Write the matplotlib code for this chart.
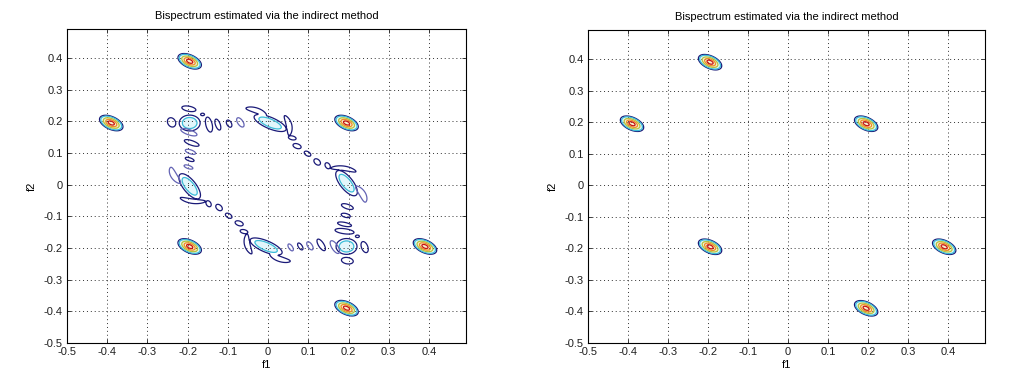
import numpy as np
import matplotlib.pyplot as plt

plt.rcParams['font.family'] = ['Liberation Sans', 'DejaVu Sans']

# frequency grid limits (normalised frequency)
f_lo, f_hi = -0.5, 0.492

# true spectral peaks, seen by both estimators (centre, outer contour half-axes, tilt)
peak_f1 = [-0.39, -0.195, 0.195, -0.195, 0.39, 0.195]
peak_f2 = [0.195, 0.39, 0.195, -0.195, -0.195, -0.39]
peak_a = [0.033, 0.033, 0.033, 0.033, 0.033, 0.033]
peak_b = [0.019, 0.019, 0.019, 0.019, 0.019, 0.019]
peak_ang = [-35, -35, -35, -35, -35, -35]
peak_amp = 10.0

# leakage cores of the indirect estimate (left panel only)
core_f1 = [0.005, 0.195, -0.005, -0.195, -0.195, 0.195]
core_f2 = [0.195, 0.005, -0.195, -0.005, 0.195, -0.195]
core_a = [0.045, 0.045, 0.045, 0.045, 0.026, 0.026]
core_b = [0.017, 0.017, 0.017, 0.017, 0.025, 0.025]
core_ang = [-30, -60, -30, -60, 0, 0]
core_amp = 2.5

# side lobes, dark outline
lobe_f1 = [-0.028, 0.052, 0.060, 0.188, 0.148, 0.028, -0.052, -0.060, -0.188, -0.148,
           0.072, 0.098, 0.122, -0.072, -0.098, -0.122,
           -0.240, -0.197, -0.163, -0.147, -0.125, -0.097,
           -0.190, -0.195,
           0.197, 0.240, 0.222, 0.190, 0.190, 0.193, 0.197,
           0.132, 0.080]
lobe_f2 = [0.234, 0.188, 0.148, 0.052, 0.060, -0.234, -0.188, -0.148, -0.052, -0.060,
           0.122, 0.098, 0.072, -0.122, -0.098, -0.072,
           0.197, 0.240, 0.222, 0.190, 0.190, 0.193,
           0.132, 0.080,
           -0.240, -0.197, -0.163, -0.147, -0.125, -0.097, -0.069,
           -0.190, -0.195]
lobe_a = [0.028, 0.032, 0.010, 0.032, 0.010, 0.028, 0.032, 0.010, 0.032, 0.010,
          0.011, 0.010, 0.011, 0.011, 0.010, 0.011,
          0.015, 0.018, 0.005, 0.024, 0.018, 0.012,
          0.020, 0.012,
          0.015, 0.018, 0.005, 0.024, 0.018, 0.012, 0.016,
          0.020, 0.012]
lobe_b = [0.008, 0.007, 0.006, 0.007, 0.006, 0.008, 0.007, 0.006, 0.007, 0.006,
          0.007, 0.006, 0.007, 0.007, 0.006, 0.007,
          0.010, 0.008, 0.004, 0.008, 0.006, 0.006,
          0.007, 0.005,
          0.010, 0.008, 0.004, 0.008, 0.006, 0.006, 0.007,
          0.007, 0.005]
lobe_ang = [-25, -80, -20, -10, -70, -25, -80, -20, -10, -70,
            -30, -45, -60, -30, -45, -60,
            -75, -15, 0, -80, -75, -70,
            -25, -25,
            -15, -75, 0, -10, -15, -20, -25,
            -65, -65]
lobe_bend = [5, 5, 0, 5, 0, 5, 5, 0, 5, 0,
             0, 0, 0, 0, 0, 0,
             0, 0, 0, 0, 0, 0,
             0, 0,
             0, 0, 0, 0, 0, 0, 0,
             0, 0]

# side lobes, lighter outline
faint_f1 = [0.234, -0.234, -0.069, -0.197, -0.193, -0.198, 0.166, 0.104, 0.056]
faint_f2 = [-0.028, 0.028, 0.197, 0.166, 0.104, 0.056, -0.197, -0.193, -0.198]
faint_a = [0.028, 0.028, 0.016, 0.022, 0.014, 0.012, 0.022, 0.014, 0.012]
faint_b = [0.008, 0.008, 0.007, 0.008, 0.006, 0.005, 0.008, 0.006, 0.005]
faint_ang = [-65, -65, -65, -25, -25, -25, -65, -65, -65]
faint_bend = [5, 5, 0, 0, 0, 0, 0, 0, 0]
lobe_amp = 1.4

levels = [1.0, 1.6, 3.5, 6.0, 8.5]
level_colors = ['#1a1a78', '#3cbcd8', '#b4c440', '#f08c28', '#c81414']


def blobs(F1, F2, x, y, a, b, ang, amp, bend=None):
    # each blob is 1.0 on its outer ellipse; blobs are merged with max
    out = np.zeros_like(F1)
    for i in range(len(x)):
        t = np.deg2rad(ang[i])
        dx, dy = F1 - x[i], F2 - y[i]
        u = dx * np.cos(t) + dy * np.sin(t)
        v = -dx * np.sin(t) + dy * np.cos(t)
        if bend is not None and bend[i]:
            # curve the lobe around the closest leakage core
            d = [(cx - x[i]) ** 2 + (cy - y[i]) ** 2 for cx, cy in zip(core_f1, core_f2)]
            j = int(np.argmin(d))
            side = -(core_f1[j] - x[i]) * np.sin(t) + (core_f2[j] - y[i]) * np.cos(t)
            v = v - np.sign(side) * bend[i] * u ** 2
        q = (u / a[i]) ** 2 + (v / b[i]) ** 2
        out = np.maximum(out, amp * amp ** (-q))
    return out


f = np.linspace(f_lo, f_hi, 500)
F1, F2 = np.meshgrid(f, f)

peaks = blobs(F1, F2, peak_f1, peak_f2, peak_a, peak_b, peak_ang, peak_amp)
leak = blobs(F1, F2, core_f1, core_f2, core_a, core_b, core_ang, core_amp)
side = blobs(F1, F2, lobe_f1, lobe_f2, lobe_a, lobe_b, lobe_ang, lobe_amp, lobe_bend)
faint = blobs(F1, F2, faint_f1, faint_f2, faint_a, faint_b, faint_ang, lobe_amp, faint_bend)

indirect = np.maximum(np.maximum(peaks, leak), side)
windowed = peaks

fig = plt.figure(figsize=(10.35, 3.85), dpi=100)
ax1 = fig.add_axes([67 / 1035, 42 / 385, 399 / 1035, 314 / 385])
ax2 = fig.add_axes([588 / 1035, 42 / 385, 397 / 1035, 313 / 385])

ticks = np.round(np.arange(-5, 5) * 0.1, 1) + 0.0

for ax, B in [(ax1, indirect), (ax2, windowed)]:
    ax.contourf(F1, F2, B, levels=[1.6, 3.5, 100], colors=['#e2f6fb', '#f6f0cc'])
    ax.contour(F1, F2, B, levels=levels, colors=level_colors, linewidths=0.9)
    if ax is ax1:
        ax.contour(F1, F2, faint, levels=[1.0], colors=['#6464b4'], linewidths=0.9)
    ax.set_xlim(f_lo, f_hi)
    ax.set_ylim(f_lo, f_hi)
    ax.set_xticks(ticks)
    ax.set_yticks(ticks)
    ax.set_xticklabels([f'{v:g}' for v in ticks])
    ax.set_yticklabels([f'{v:g}' for v in ticks])
    ax.tick_params(direction='in', length=3, width=0.6, top=True, right=True,
                   labelsize=8, pad=3, colors='#202020')
    ax.grid(True, color='#303030', linestyle=(0, (1, 3)), linewidth=0.7)
    for s in ax.spines.values():
        s.set_linewidth(0.8)
    ax.set_title('Bispectrum estimated via the indirect method', fontsize=8, pad=7)
    ax.set_xlabel('f1', fontsize=8, labelpad=2)
    ax.set_ylabel('f2', fontsize=8, labelpad=5)

fig.savefig('out.png', dpi=100)
